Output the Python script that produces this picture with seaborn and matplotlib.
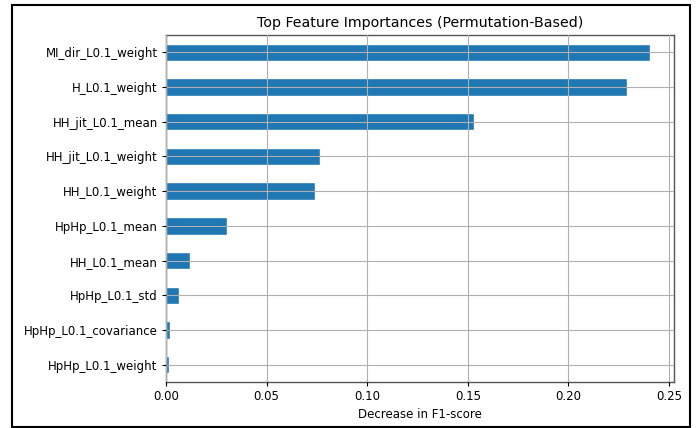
import matplotlib
matplotlib.use("Agg")
import matplotlib.pyplot as plt
from matplotlib.patches import Rectangle
import seaborn as sns
import pandas as pd

features = [
    "MI_dir_L0.1_weight",
    "H_L0.1_weight",
    "HH_jit_L0.1_mean",
    "HH_jit_L0.1_weight",
    "HH_L0.1_weight",
    "HpHp_L0.1_mean",
    "HH_L0.1_mean",
    "HpHp_L0.1_std",
    "HpHp_L0.1_covariance",
    "HpHp_L0.1_weight",
]
importances = [0.2405, 0.2292, 0.1532, 0.0765, 0.0743, 0.0305, 0.0118, 0.0066, 0.0018, 0.0013]

df = pd.DataFrame({"feature": features, "importance": importances})

sns.set_theme(style="ticks", rc={
    "axes.edgecolor": "#555555",
    "text.color": "black",
    "axes.labelcolor": "black",
    "xtick.color": "black",
    "ytick.color": "black",
})
plt.rcParams["font.family"] = ["DejaVu Sans"]

fig = plt.figure(figsize=(6.96, 4.28), dpi=100)
ax = fig.add_axes([166 / 696, 1 - 382 / 428, (674 - 166) / 696, (382 - 35) / 428])

sns.barplot(data=df, x="importance", y="feature", orient="h", color="#1f77b4",
            saturation=1, width=0.5, ax=ax)

ax.set_xlim(0, max(importances) * 1.05)
ax.set_xticks([0.0, 0.05, 0.10, 0.15, 0.20, 0.25])
ax.set_xticklabels(["0.00", "0.05", "0.10", "0.15", "0.20", "0.25"])
ax.grid(True, color="#b0b0b0", linewidth=0.8)
ax.set_axisbelow(False)
ax.tick_params(axis="both", labelsize=8.5, length=3, width=0.8, color="black",
               labelcolor="black", pad=3)
for s in ax.spines.values():
    s.set_linewidth(1.0)
ax.set_title("Top Feature Importances (Permutation-Based)", fontsize=10.2, pad=6,
             color="black")
ax.set_xlabel("Decrease in F1-score", fontsize=8.5, labelpad=3, color="black")
ax.set_ylabel("")

fig.patches.append(Rectangle((12 / 696, 1 / 428), (690 - 12) / 696, (423 - 1) / 428,
                             transform=fig.transFigure, fill=False,
                             edgecolor="black", linewidth=1.5))

fig.savefig("out.png", dpi=100)
